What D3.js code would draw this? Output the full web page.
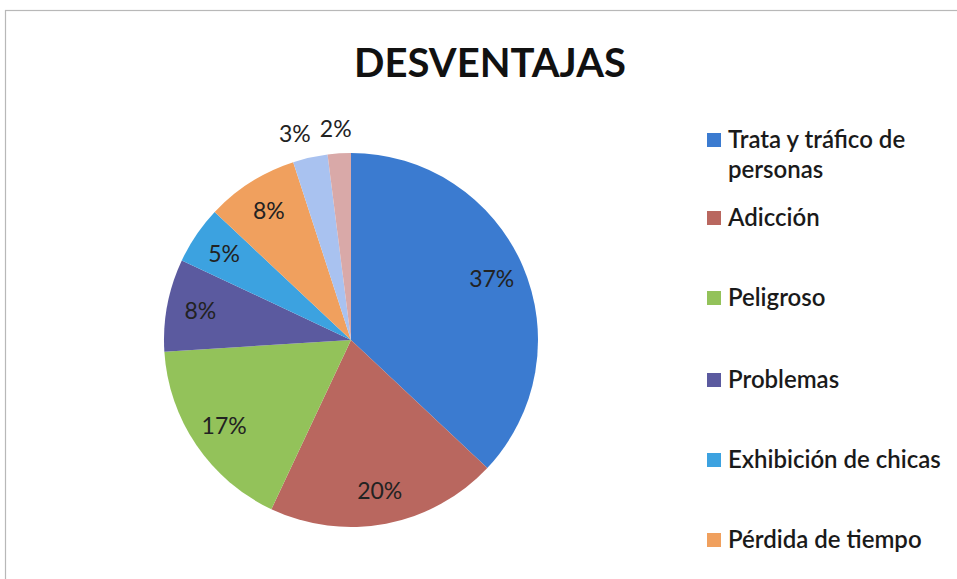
<!DOCTYPE html>
<html>
<head>
<meta charset="utf-8">
<script src="https://cdn.jsdelivr.net/npm/d3@7"></script>
<style>
  body { margin: 0; background: #fff; }
  svg { display: block; }
</style>
</head>
<body>
<div class="chart"></div>
<script>
// size
var width = 957;
var height = 579;

// data
var categories = [
  "Trata y tráfico de personas",
  "Adicción",
  "Peligroso",
  "Problemas",
  "Exhibición de chicas",
  "Pérdida de tiempo",
  "Otros 1",
  "Otros 2"
];
var values = [37, 20, 17, 8, 5, 8, 3, 2];
var colors = ["#3b7bd0", "#b9675f", "#93c25a", "#5b5a9f", "#3ca2e0", "#f0a05e", "#a9c2f0", "#d9a9a8"];
// legend only shows the first six (rest cut off)
var legendLines = [
  ["Trata y tráfico de", "personas"],
  ["Adicción"],
  ["Peligroso"],
  ["Problemas"],
  ["Exhibición de chicas"],
  ["Pérdida de tiempo"]
];

var font = "Lato, 'Open Sans', sans-serif";

const svg = d3.select(".chart")
  .append("svg")
  .attr("width", width)
  .attr("height", height);

// frame
svg.append("rect")
  .attr("x", 5.5).attr("y", 10.5)
  .attr("width", width + 10).attr("height", height + 10)
  .attr("fill", "#fff")
  .attr("stroke", "#b8b8b8")
  .attr("stroke-width", 1.2);

// title
svg.append("text")
  .attr("x", 490)
  .attr("y", 77)
  .attr("text-anchor", "middle")
  .attr("font-family", font)
  .attr("font-weight", 700)
  .attr("font-size", 40)
  .attr("fill", "#111")
  .text("DESVENTAJAS");

// pie
var cx = 351, cy = 340, r = 187;
var pie = d3.pie().sort(null).value(d => d);
var arcs = pie(values);
var arc = d3.arc().innerRadius(0).outerRadius(r);
var color = d3.scaleOrdinal().domain(categories).range(colors);

var g = svg.append("g").attr("transform", "translate(" + cx + "," + cy + ")");

g.selectAll("path")
  .data(arcs)
  .enter()
  .append("path")
  .attr("d", arc)
  .attr("fill", (d, i) => color(categories[i]));

// labels: inside for big slices, outside for the two tiny ones
var inner = d3.arc().innerRadius(r * 0.82).outerRadius(r * 0.82);
var outer = d3.arc().innerRadius(r * 1.13).outerRadius(r * 1.13);
g.selectAll("text.lbl")
  .data(arcs)
  .enter()
  .append("text")
  .attr("class", "lbl")
  .attr("transform", (d, i) => {
    var p = (i >= 6 ? outer : inner).centroid(d);
    if (i === 6) p[0] -= 10;
    if (i === 7) p[0] -= 2;
    return "translate(" + p[0] + "," + p[1] + ")";
  })
  .attr("text-anchor", "middle")
  .attr("dy", "0.35em")
  .attr("font-family", font)
  .attr("font-size", 23)
  .attr("fill", "#222")
  .text(d => d.value + "%");

// legend
var legend = svg.append("g").attr("transform", "translate(707,0)");
var ys = [140, 218, 298, 380, 460, 540];
legendLines.forEach((lines, i) => {
  legend.append("rect")
    .attr("x", 0)
    .attr("y", ys[i] - 7)
    .attr("width", 14)
    .attr("height", 14)
    .attr("fill", colors[i]);
  var t = legend.append("text")
    .attr("x", 21)
    .attr("y", ys[i])
    .attr("font-family", font)
    .attr("font-size", 24)
    .attr("font-weight", 600)
    .attr("fill", "#1a1a1a");
  lines.forEach((s, j) => {
    t.append("tspan").attr("x", 21).attr("dy", j === 0 ? "0.35em" : "1.25em").text(s);
  });
});
</script>
</body>
</html>
